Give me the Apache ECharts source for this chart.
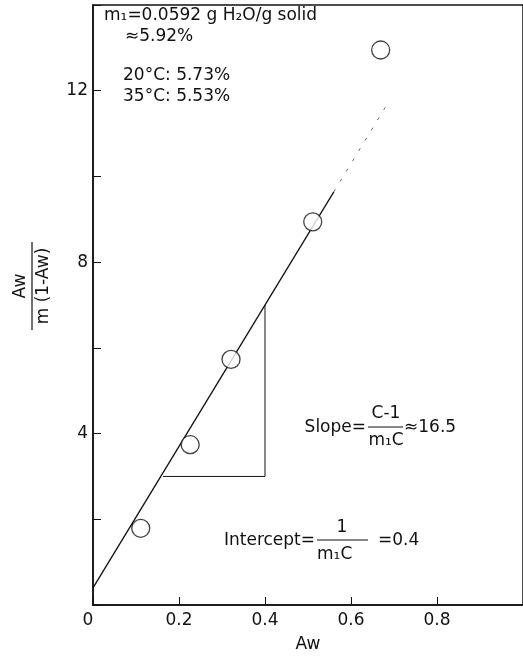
<!DOCTYPE html>
<html>
<head>
<meta charset="utf-8">
<script src="https://cdn.jsdelivr.net/npm/echarts@6/dist/echarts.min.js"></script>
<style>
  html, body { margin: 0; padding: 0; background: #ffffff; }
  #chart { width: 523px; height: 658px; }
</style>
</head>
<body>
<div id="chart"></div>
<script>
// BET plot: Aw / (m (1 - Aw)) against water activity Aw
const awValues = [0.111, 0.226, 0.321, 0.511, 0.669];
const betValues = [1.79, 3.74, 5.73, 8.94, 12.95];

// Fitted BET line, from the stated slope and intercept
const fitSlope = 16.5;
const fitIntercept = 0.4;
const fitSolidRange = [0, 0.56];
const fitFadedRange = [0.56, 0.68];

// Rise-over-run triangle drawn under the fitted line
const slopeTriangle = [[0.163, 3], [0.4, 3], [0.4, 7]];

// Axis ticks
const xTickValues = [0, 0.2, 0.4, 0.6, 0.8];
const yLabelledTicks = [4, 8, 12];

const FONT = '"DejaVu Sans", "Liberation Sans", sans-serif';
const INK = '#111111';

const fitPoint = x => [x, fitIntercept + fitSlope * x];
const fitSolid = fitSolidRange.map(fitPoint);
const fitFaded = fitFadedRange.map(fitPoint);
const points = awValues.map((x, i) => [x, betValues[i]]);

function txt(x, y, text, align, vAlign, size) {
  return {
    type: 'text', x: x, y: y, silent: true,
    style: {
      text: text, fill: INK,
      font: (size || 17) + 'px ' + FONT,
      align: align || 'left', verticalAlign: vAlign || 'middle',
      textAlign: align || 'left', textVerticalAlign: vAlign || 'middle'
    }
  };
}
function bar(x1, y1, x2, y2, w) {
  return {
    type: 'line', silent: true,
    shape: { x1: x1, y1: y1, x2: x2, y2: y2 },
    style: { stroke: INK, lineWidth: w || 1.2 }
  };
}

const chart = echarts.init(document.getElementById('chart'), null, { renderer: 'canvas' });

chart.setOption({
  backgroundColor: '#ffffff',
  animation: false,
  grid: {
    left: 93, top: 5, width: 436.5, height: 602,
    show: true, borderColor: INK, borderWidth: 1.5, backgroundColor: 'transparent'
  },
  xAxis: {
    type: 'value', min: 0, max: 1, interval: 0.2,
    name: 'Aw', nameLocation: 'middle', nameGap: 31,
    nameTextStyle: { color: INK, fontSize: 17, fontFamily: FONT },
    axisLine: { show: true, lineStyle: { color: INK, width: 1.5 } },
    axisTick: { show: true, inside: true, length: 8, lineStyle: { color: INK, width: 1 } },
    axisLabel: {
      color: INK, fontSize: 17, fontFamily: FONT, margin: 7, showMaxLabel: false,
      rich: { z: { fontSize: 17, fontFamily: FONT, color: INK, padding: [0, 10, 0, 0] } },
      formatter: v => {
        if (!xTickValues.some(t => Math.abs(t - v) < 1e-9)) return '';
        return v === 0 ? '{z|0}' : v.toFixed(1);
      }
    },
    splitLine: { show: false }
  },
  yAxis: {
    type: 'value', min: 0, max: 14, interval: 2,
    axisLine: { show: true, lineStyle: { color: INK, width: 1.5 } },
    axisTick: { show: true, inside: true, length: 8, lineStyle: { color: INK, width: 1 } },
    axisLabel: {
      color: INK, fontSize: 17, fontFamily: FONT, margin: 5,
      formatter: v => yLabelledTicks.indexOf(v) >= 0 ? String(v) : ''
    },
    splitLine: { show: false }
  },
  series: [
    {
      type: 'line', data: fitSolid, symbol: 'none', silent: true,
      lineStyle: { color: INK, width: 1.3 }, z: 2
    },
    {
      type: 'line', data: fitFaded, symbol: 'none', silent: true,
      lineStyle: { color: '#666666', width: 1, type: [3, 9] }, z: 2
    },
    {
      type: 'line', data: slopeTriangle, symbol: 'none', silent: true,
      lineStyle: { color: INK, width: 1 }, z: 2
    },
    {
      type: 'scatter', data: points, symbol: 'circle', symbolSize: 18,
      itemStyle: { color: '#ffffff', borderColor: INK, borderWidth: 1.3 }, z: 3
    }
  ],
  graphic: [
    // y-axis title as a fraction, reading bottom to top
    {
      type: 'group', x: 32, y: 286, rotation: Math.PI / 2, silent: true,
      children: [
        txt(0, -3, 'Aw', 'center', 'bottom', 17),
        bar(-44, 0, 44, 0, 1.2),
        txt(0, 3, 'm (1-Aw)', 'center', 'top', 17)
      ]
    },
    // moisture content notes
    txt(104, 16, 'm\u2081=0.0592 g H\u2082O/g solid'),
    txt(125, 37, '\u22485.92%'),
    txt(123, 76, '20\u00B0C: 5.73%'),
    txt(123, 97, '35\u00B0C: 5.53%'),
    // slope annotation
    txt(366, 428, 'Slope=', 'right'),
    txt(386, 414, 'C-1', 'center'),
    bar(368, 427, 403, 427),
    txt(386, 441, 'm\u2081C', 'center'),
    txt(404, 428, '\u224816.5'),
    // intercept annotation
    txt(315, 541, 'Intercept=', 'right'),
    txt(342, 528, '1', 'center'),
    bar(317, 540, 368, 540),
    txt(317, 555, 'm\u2081C'),
    txt(378, 541, '=0.4')
  ]
});
</script>
</body>
</html>
